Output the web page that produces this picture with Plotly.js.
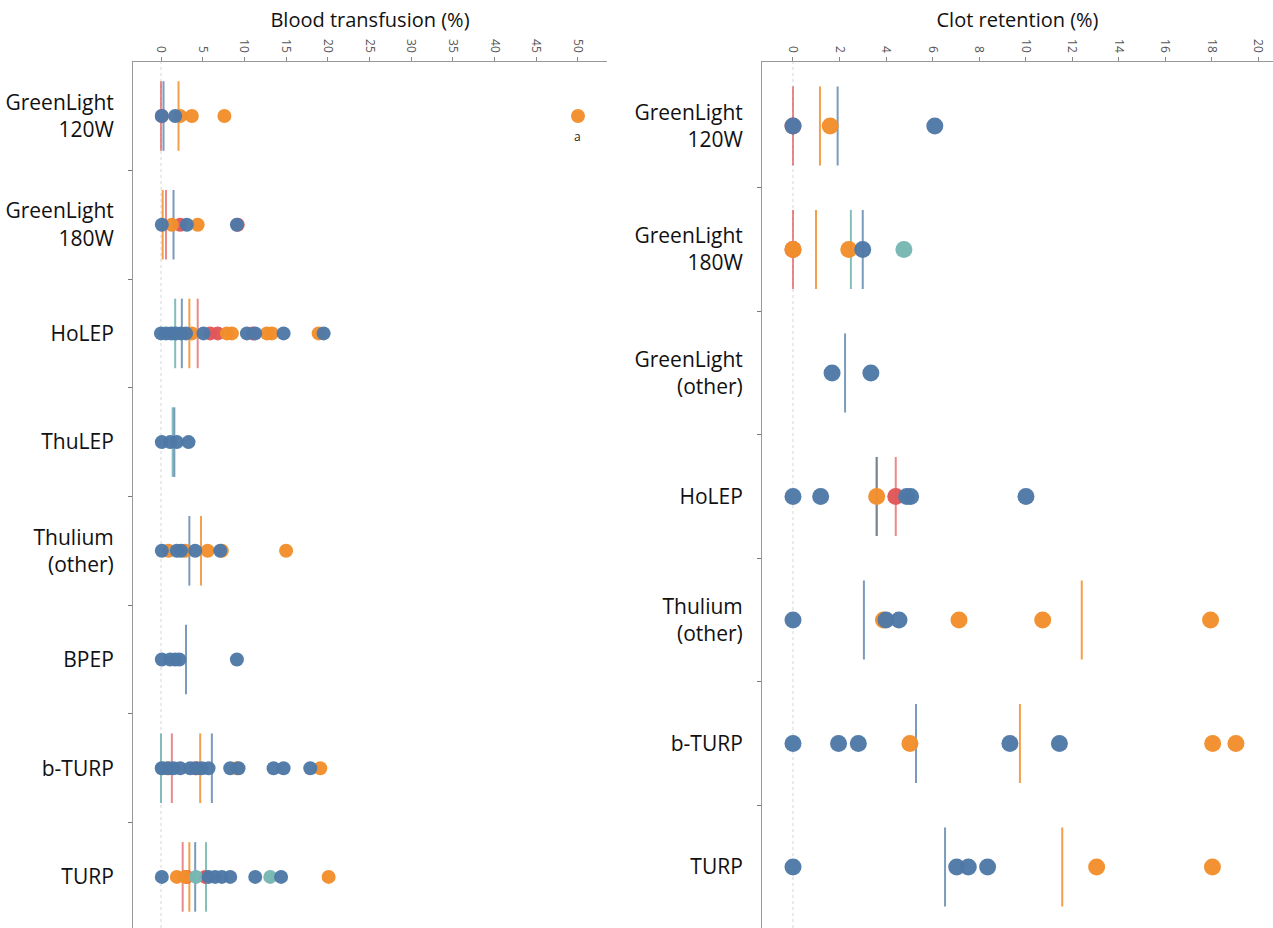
<!DOCTYPE html>
<html>
<head>
<meta charset="utf-8">
<script src="https://cdn.plot.ly/plotly-3.0.1.min.js"></script>
<style>html,body{margin:0;padding:0;background:#fff;}#chart{width:1273px;height:928px;}</style>
</head>
<body>
<div id="chart"></div>
<script>
// ---------- Blood transfusion (%) panel ----------
const btCategories = ["GreenLight<br>120W", "GreenLight<br>180W", "HoLEP", "ThuLEP", "Thulium<br>(other)", "BPEP", "b-TURP", "TURP"];
const btBlue = [
  [0.1, 1.7],
  [0.1, 3.1, 9.1],
  [0, 0.6, 1.2, 1.8, 2.4, 3.0, 5.1, 10.3, 11.3, 14.7, 19.5],
  [0.1, 1.1, 1.9, 3.3],
  [0.1, 1.9, 2.4, 4.1, 7.1],
  [0.1, 1.1, 1.7, 2.2, 9.1],
  [0.1, 0.9, 1.5, 2.3, 3.5, 4.3, 4.9, 5.7, 8.3, 9.3, 13.5, 14.7, 17.9],
  [0.1, 5.7, 6.5, 7.3, 8.3, 11.3, 14.4]
];
const btOrange = [
  [2.3, 3.7, 7.6, 50],
  [1.3, 4.4],
  [3.7, 7.9, 8.5, 12.7, 13.3, 18.9],
  [],
  [0.9, 2.9, 5.6, 7.3, 15.0],
  [],
  [0.7, 9.1, 19.1],
  [1.9, 2.9, 20.1]
];
const btRed = [[0.1], [2.3, 9.2], [5.9, 6.8, 11.0], [], [], [], [4.1], [3.1, 5.3]];
const btTeal = [[], [], [1.5], [], [], [], [0.1], [4.2, 13.1]];
const btLineBlue   = [0.3, 1.5, 2.5, 1.6, 3.4, 3.0, 6.1, 4.1];
const btLineOrange = [2.1, 0.2, 3.4, null, 4.8, null, 4.7, 3.4];
const btLineRed    = [0.0, 0.6, 4.4, null, null, null, 1.3, 2.6];
const btLineTeal   = [null, null, 1.7, 1.4, null, null, 0.0, 5.4];
const btTicks = [0, 5, 10, 15, 20, 25, 30, 35, 40, 45, 50];

// ---------- Clot retention (%) panel ----------
const crCategories = ["GreenLight<br>120W", "GreenLight<br>180W", "GreenLight<br>(other)", "HoLEP", "Thulium<br>(other)", "b-TURP", "TURP"];
const crBlue = [
  [0, 6.1],
  [3.0],
  [1.68, 3.35],
  [0, 1.19, 4.89, 5.06, 10.02],
  [0, 4.0, 4.56],
  [0, 1.96, 2.81, 9.33, 11.46],
  [0, 7.04, 7.54, 8.37]
];
const crOrange = [
  [1.6],
  [0, 2.4],
  [],
  [3.6],
  [3.89, 7.14, 10.74, 17.96],
  [5.03, 18.05, 19.05],
  [13.06, 18.04]
];
const crRed = [[0], [0], [], [4.42], [], [], []];
const crTeal = [[], [4.77], [], [], [], [], []];
const crLineBlue   = [1.92, 3.0, 2.24, 3.6, 3.05, 5.29, 6.54];
const crLineOrange = [1.16, 0.99, null, 3.6, 12.42, 9.76, 11.58];
const crLineRed    = [0, 0, null, 4.42, null, null, null];
const crLineTeal   = [null, 2.49, null, null, null, null, null];
const crTicks = [0, 2, 4, 6, 8, 10, 12, 14, 16, 18, 20];

// ---------- styles ----------
const COLORS = {blue: "#4e79a7", orange: "#f28e2b", red: "#e15759", teal: "#76b7b2"};
const LINECOLORS = {
  blue: "rgba(78,121,167,0.75)",
  orange: "rgba(242,142,43,0.85)",
  red: "rgba(225,87,89,0.7)",
  teal: "rgba(118,183,178,0.9)"
};
const FONT = "'Open Sans', 'Noto Sans', sans-serif";
const HALF = 0.32;

function dotTrace(rows, color, xa, ya, size) {
  const x = [], y = [];
  rows.forEach((vals, i) => vals.forEach(v => { x.push(v); y.push(i); }));
  return {type: "scatter", mode: "markers", x, y, xaxis: xa, yaxis: ya, hoverinfo: "x",
    marker: {color: COLORS[color], size, opacity: 0.97, line: {width: 0}}, showlegend: false};
}
function lineTrace(vals, color, xa, ya) {
  const x = [], y = [];
  vals.forEach((v, i) => { if (v !== null) { x.push(v, v, null); y.push(i - HALF, i + HALF, null); } });
  return {type: "scatter", mode: "lines", x, y, xaxis: xa, yaxis: ya, hoverinfo: "x",
    line: {color: LINECOLORS[color], width: 2}, showlegend: false};
}

const traces = [
  lineTrace(btLineTeal, "teal", "x", "y"),
  lineTrace(btLineRed, "red", "x", "y"),
  lineTrace(btLineOrange, "orange", "x", "y"),
  lineTrace(btLineBlue, "blue", "x", "y"),
  dotTrace(btRed, "red", "x", "y", 14),
  dotTrace(btOrange, "orange", "x", "y", 14),
  dotTrace(btTeal, "teal", "x", "y", 14),
  dotTrace(btBlue, "blue", "x", "y", 14),
  lineTrace(crLineTeal, "teal", "x2", "y2"),
  lineTrace(crLineRed, "red", "x2", "y2"),
  lineTrace(crLineOrange, "orange", "x2", "y2"),
  lineTrace(crLineBlue, "blue", "x2", "y2"),
  dotTrace(crRed, "red", "x2", "y2", 17),
  dotTrace(crOrange, "orange", "x2", "y2", 17),
  dotTrace(crTeal, "teal", "x2", "y2", 17),
  dotTrace(crBlue, "blue", "x2", "y2", 17)
];

function xAxis(domain, range, ticks, title, anchor) {
  return {
    domain, range, side: "top", anchor, tickmode: "array", tickvals: ticks,
    ticktext: ticks.map(String), tickangle: 90, ticks: "outside", ticklen: 4, tickcolor: "#888",
    tickfont: {family: FONT, size: 12, color: "#555"},
    showline: true, linecolor: "#999", linewidth: 1, showgrid: false, zeroline: false,
    title: {text: title, font: {family: FONT, size: 20, color: "#111"}, standoff: 6},
    fixedrange: true
  };
}
function yAxis(cats, anchor, range) {
  return {
    domain: [0, 1], anchor, range, tickmode: "array",
    tickvals: cats.map((c, i) => i), ticktext: cats, ticks: "", ticklabelstandoff: 14,
    tickfont: {family: FONT, size: 21, color: "#111"},
    minor: {tickmode: "array", tickvals: cats.slice(1).map((c, i) => i + 0.5), ticks: "outside", ticklen: 4, tickcolor: "#777", showgrid: false},
    showline: true, linecolor: "#999", linewidth: 1, showgrid: false, zeroline: false, fixedrange: true
  };
}

const layout = {
  width: 1273, height: 928,
  margin: {l: 0, r: 0, t: 62, b: 0},
  paper_bgcolor: "#fff", plot_bgcolor: "#fff",
  font: {family: FONT},
  showlegend: false,
  xaxis: xAxis([133 / 1273, 607 / 1273], [-3.357, 53.48], btTicks, "Blood transfusion (%)", "y"),
  yaxis: yAxis(btCategories, "x", [7.47, -0.497]),
  xaxis2: xAxis([762 / 1273, 1], [-1.333, 20.645], crTicks, "Clot retention (%)", "y2"),
  yaxis2: yAxis(crCategories, "x2", [6.494, -0.518]),
  shapes: [
    {type: "line", xref: "x", yref: "y domain", x0: 0, x1: 0, y0: 0, y1: 1, layer: "below", line: {color: "#d6d6d6", width: 1, dash: "dot"}},
    {type: "line", xref: "x2", yref: "y2 domain", x0: 0, x1: 0, y0: 0, y1: 1, layer: "below", line: {color: "#d6d6d6", width: 1, dash: "dot"}}
  ],
  annotations: [
    {xref: "x", yref: "y", x: Math.max(...btOrange[0]), y: 0, yshift: -20, text: "a", showarrow: false,
     font: {family: FONT, size: 12, color: "#222"}}
  ]
};

Plotly.newPlot("chart", traces, layout, {displayModeBar: false, staticPlot: true});
</script>
</body>
</html>
